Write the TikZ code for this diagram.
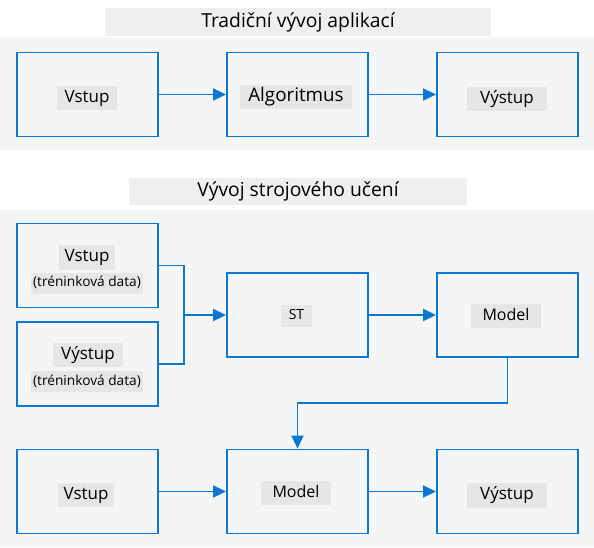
\documentclass[tikz,border=0pt]{standalone}
\usepackage{fontspec}
\setmainfont{Open Sans}
\usetikzlibrary{%
  arrows.meta,%
  positioning%
}
\definecolor{boxblue}{HTML}{0A78D2}
\definecolor{panelgray}{HTML}{F5F5F5}
\definecolor{titlegray}{HTML}{EFEFEF}
\definecolor{labelgray}{HTML}{E6E6E6}

\begin{document}
\begin{tikzpicture}[
  x=1pt, y=-1pt,
  font=\fontsize{17}{20}\selectfont,
  >={Triangle[length=13pt,width=12pt]},
  line width=1.9pt,
  box/.style={draw=boxblue, minimum width=141pt, minimum height=84pt, inner sep=0pt},
  lbl/.style={fill=labelgray, inner xsep=8pt, inner ysep=4pt, text height=12.5pt, text depth=4pt},
  small/.style={fill=labelgray, inner xsep=2pt, inner ysep=4pt, font=\fontsize{13.7}{16}\selectfont, text height=10pt, text depth=3pt},
  heading/.style={fill=titlegray, inner sep=0pt, minimum height=28pt, font=\fontsize{19.3}{22}\selectfont},
  conn/.style={draw=boxblue}
]

\useasboundingbox (0,0) rectangle (594,547);
\fill[panelgray] (0,37) rectangle (594,150);
\fill[panelgray] (0,210) rectangle (594,547);

% traditional
\node[heading, minimum width=386pt] (head1) at (298,22) {Tradiční vývoj aplikací};

\node[box] (in1) at (87.5,94.5) {};
\node[box] (alg) at (297.5,94.5) {};
\node[box] (out1) at (507.5,94.5) {};

\node[lbl] (in1l) at (87,98) {Vstup};
\node[lbl, font=\fontsize{18.8}{22}\selectfont] (algl) at (296,97) {Algoritmus};
\node[lbl, inner xsep=13pt] (out1l) at (507,99) {Výstup};

\draw[conn,->] (in1) -- (alg);
\draw[conn,->] (alg) -- (out1);

% machine learning
\node[heading, minimum width=338pt, minimum height=27pt] (head2) at (298,191.5) {Vývoj strojového učení};

\node[box] (inT) at (87.5,265.5) {};
\node[box] (outT) at (87.5,364) {};
\node[box] (st) at (297.5,315) {};
\node[box] (model) at (507.5,315) {};
\node[box] (in2) at (87.5,491.5) {};
\node[box] (model2) at (297.5,491.5) {};
\node[box] (out2) at (507.5,491.5) {};

\node[lbl, inner xsep=5.5pt] (inTl) at (87,257.5) {Vstup};
\node[small] (inTs) at (87,283) {(tréninková data)};
\node[lbl, inner xsep=8pt] (outTl) at (88,355) {Výstup};
\node[small] (outTs) at (87,381.5) {(tréninková data)};
\node[lbl, font=\fontsize{14}{16}\selectfont, text height=10.5pt, text depth=3pt] (stl) at (296.5,316) {ST};
\node[lbl, inner xsep=12pt, font=\fontsize{16}{19}\selectfont] (modell) at (506,316) {Model};
\node[lbl, inner xsep=6pt] (in2l) at (86,495) {Vstup};
\node[lbl, inner xsep=12pt, font=\fontsize{16}{19}\selectfont] (model2l) at (296,493) {Model};
\node[lbl, inner xsep=13pt] (out2l) at (507,495.5) {Výstup};

\coordinate (join) at (184,315);
\coordinate (turn) at (507.5,403);

\draw[conn] (inT) -| (join);
\draw[conn] (outT) -| (join);
\draw[conn,->] (join) -- (st);
\draw[conn,->] (st) -- (model);
\draw[conn,->] (model) -- (turn) -| (model2);
\draw[conn,->] (in2) -- (model2);
\draw[conn,->] (model2) -- (out2);

\end{tikzpicture}
\end{document}
